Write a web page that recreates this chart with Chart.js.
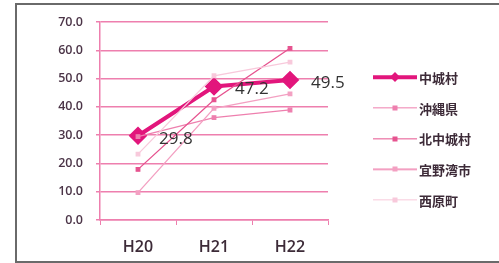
<!DOCTYPE html>
<html lang="ja">
<head>
<meta charset="UTF-8">
<title>中城村 推移</title>
<script src="https://cdn.jsdelivr.net/npm/chart.js"></script>
<style>
  body { margin: 0; background: #fff; }
  .frame {
    position: absolute; left: 15px; top: 3px; width: 500px; height: 256px;
    border: 2px solid #6a6a6a; box-sizing: content-box;
  }
  #chart { position: absolute; left: 0; top: 0; }
  .legend { position: absolute; left: 373px; top: 62px; font-family: "Noto Sans CJK JP", sans-serif;
    font-size: 13px; font-weight: bold; color: #3d2b38; }
  .legend div { height: 30.7px; display: flex; align-items: center; }
  .legend .sw { position: relative; width: 44px; height: 10px; margin-right: 2px; }
  .legend .sw i { position: absolute; left: 0; right: 0; top: 50%; transform: translateY(-50%); }
  .legend .sw b { position: absolute; left: 50%; top: 50%; transform: translate(-50%,-50%); }
</style>
</head>
<body>
<div class="frame"></div>
<canvas id="chart" width="499" height="263"></canvas>
<div class="legend" id="legend"></div>
<script>
// data
const years = ['H20', 'H21', 'H22'];
const names = ['中城村', '沖縄県', '北中城村', '宜野湾市', '西原町'];
const nakagusuku = [29.8, 47.2, 49.5];
const okinawa = [29.5, 36.2, 38.9];
const kitanakagusuku = [17.9, 42.5, 60.7];
const ginowan = [9.7, 39.5, 44.6];
const nishihara = [23.3, 51.0, 55.8];
const yTicks = [0, 10, 20, 30, 40, 50, 60, 70];

const series = [nakagusuku, okinawa, kitanakagusuku, ginowan, nishihara];
const colors = ['#e2167c', '#ee7fae', '#e6538f', '#f3a0c2', '#f8c9db'];
const widths = [4, 1.3, 1.3, 1.3, 1.3];

const datasets = series.map((d, i) => ({
  label: names[i],
  data: d,
  borderColor: colors[i],
  backgroundColor: colors[i],
  borderWidth: widths[i],
  pointStyle: i === 0 ? 'rectRot' : 'rect',
  pointRadius: i === 0 ? 6.5 : 2.5,
  tension: 0,
  order: 5 - i
}));

// value labels next to the main series
const valueLabels = {
  id: 'valueLabels',
  afterDatasetsDraw(chart) {
    const ctx = chart.ctx;
    const meta = chart.getDatasetMeta(0);
    ctx.save();
    ctx.font = '17px "Open Sans", sans-serif';
    ctx.fillStyle = '#333';
    ctx.textAlign = 'left';
    ctx.textBaseline = 'middle';
    meta.data.forEach((pt, i) => {
      ctx.fillText(nakagusuku[i].toFixed(1), pt.x + 21, pt.y + 3);
    });
    ctx.restore();
  }
};

new Chart(document.getElementById('chart'), {
  type: 'line',
  data: { labels: years, datasets },
  options: {
    responsive: false,
    animation: false,
    layout: { padding: { left: 0, right: 171, top: 22, bottom: 0 } },
    plugins: { legend: { display: false }, tooltip: { enabled: false } },
    scales: {
      x: {
        offset: true,
        grid: { offset: true, drawOnChartArea: false, color: '#ee7fae', tickLength: 5 },
        border: { color: '#ee7fae', width: 1.5 },
        ticks: { color: '#3d2b38', padding: 13, font: { family: 'Open Sans', size: 16, weight: '600' } },
        afterFit(s) { s.height = 43; }
      },
      y: {
        min: 0, max: 70,
        afterBuildTicks(s) { s.ticks = yTicks.map(v => ({ value: v })); },
        grid: { color: '#ee7fae', lineWidth: 1.5, tickLength: 4 },
        border: { color: '#ee7fae', width: 1.5 },
        ticks: { color: '#4b3447', padding: 13, font: { family: 'Open Sans', size: 12.5, weight: '600' },
                 callback: v => v.toFixed(1) },
        afterFit(s) { s.width = 100; }
      }
    }
  },
  plugins: [valueLabels]
});

// legend
const lg = document.getElementById('legend');
names.forEach((n, i) => {
  const row = document.createElement('div');
  const h = i === 0 ? 3.5 : widths[i];
  const m = i === 0 ? 7 : 5;
  row.innerHTML = `<span class="sw"><i style="height:${h}px;background:${colors[i]}"></i>` +
    `<b style="width:${m}px;height:${m}px;background:${colors[i]};${i === 0 ? 'transform:translate(-50%,-50%) rotate(45deg)' : ''}"></b></span>${n}`;
  lg.appendChild(row);
});
</script>
</body>
</html>
